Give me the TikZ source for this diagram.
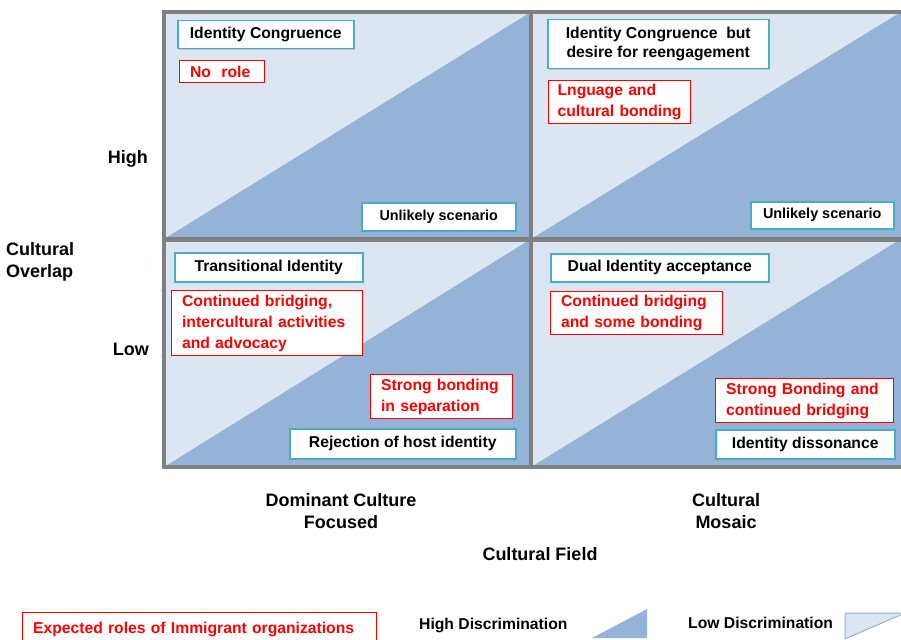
\documentclass[tikz,border=0pt]{standalone}
\usepackage{fontspec}
\setmainfont{Liberation Sans}
\usetikzlibrary{shadows}

\definecolor{cellLight}{HTML}{DCE6F2}
\definecolor{cellDark}{HTML}{95B3D7}
\definecolor{gridGray}{HTML}{808080}
\definecolor{idBlue}{HTML}{4BACC6}
\definecolor{roleRed}{HTML}{FF0000}

\tikzset{
  box/.style={anchor=north west, fill=white, inner ysep=0pt},
  idbox/.style={box, draw=idBlue, line width=1.5pt, align=center, inner xsep=0pt,
    font=\bfseries\fontsize{15.7}{19}\selectfont,
    drop shadow={shadow xshift=1.5pt, shadow yshift=-1.5pt, opacity=0.35}},
  rolebox/.style={box, draw=roleRed, line width=1.2pt, text=roleRed, align=left,
    inner xsep=10.5pt, font=\bfseries\fontsize{15.7}{21}\selectfont,
    execute at begin node={\hyphenpenalty=10000\exhyphenpenalty=10000}},
  axislabel/.style={font=\bfseries\fontsize{18}{22}\selectfont, align=center, inner sep=0pt},
  legendtext/.style={font=\bfseries\fontsize{15.7}{19}\selectfont, inner sep=0pt, anchor=west},
  gridline/.style={draw=gridGray, line width=4.5pt},
}

\begin{document}
\begin{tikzpicture}[x=1pt, y=-1pt]
\useasboundingbox (0,0) rectangle (901,639);
\clip (0,0) rectangle (901,639);

% quadrant backgrounds
\fill[cellLight] (164,12) rectangle (910,468);
\fill[cellDark] (164,239) -- (531,12) -- (531,239) -- cycle;
\fill[cellDark] (531,239) -- (901,12) -- (910,12) -- (910,239) -- cycle;
\fill[cellDark] (164,467) -- (531,239) -- (531,467) -- cycle;
\fill[cellDark] (531,467) -- (901,239) -- (910,239) -- (910,467) -- cycle;

% frame and dividers
\draw[gridline] (164,12) rectangle (910,467);
\draw[gridline] (531,12) -- (531,467);
\draw[gridline] (164,239.5) -- (910,239.5);

% high overlap, dominant culture
\node[idbox, minimum width=176pt, minimum height=28pt] (idc) at (177,20) {Identity Congruence};
\node[rolebox, text width=64pt, minimum height=22pt] (norole) at (179,60) {No\ \ role};
\node[idbox, minimum width=154pt, minimum height=28pt, font=\bfseries\fontsize{14.4}{18}\selectfont] (unl1) at (361,202) {Unlikely scenario};

% high overlap, cultural mosaic
\node[idbox, minimum width=221pt, minimum height=49pt] (idcb) at (547,19) {Identity Congruence\ \ but\\desire for reengagement};
\node[rolebox, inner xsep=9pt, text width=124pt, minimum height=43pt] (lang) at (548,80) {Lnguage and\\cultural~bonding};
\node[idbox, minimum width=143pt, minimum height=27pt, font=\bfseries\fontsize{14.4}{18}\selectfont] (unl2) at (750,201) {Unlikely scenario};

% low overlap, dominant culture
\node[idbox, minimum width=188pt, minimum height=29pt] (trans) at (174,252) {Transitional Identity};
\node[rolebox, text width=170pt, minimum height=65pt] (cont1) at (171,290) {Continued bridging,\\intercultural activities\\and advocacy};
\node[rolebox, text width=121pt, minimum height=44pt] (strong1) at (370,374) {Strong bonding\\in separation};
\node[idbox, minimum width=226pt, minimum height=30pt] (rej) at (289,428) {Rejection of host identity};

% low overlap, cultural mosaic
\node[idbox, minimum width=218pt, minimum height=28pt] (dual) at (550,253) {Dual Identity acceptance};
\node[rolebox, text width=151pt, minimum height=43pt] (cont2) at (550,291) {Continued bridging\\and some bonding};
\node[rolebox, text width=157pt, minimum height=44pt] (strong2) at (715,378) {Strong Bonding and\\continued bridging};
\node[idbox, minimum width=179pt, minimum height=29pt] (diss) at (715,429) {Identity dissonance};

% axis labels
\node[axislabel, anchor=east] (high) at (148,159) {High};
\node[axislabel, anchor=east] (low) at (149,349) {Low};
\node[axislabel, anchor=west, align=left] (overlap) at (6,262) {Cultural\\Overlap};
\node[axislabel] (dominant) at (341,511) {Dominant Culture\\Focused};
\node[axislabel] (mosaic) at (726,511) {Cultural\\Mosaic};
\node[axislabel] (field) at (540,554) {Cultural Field};

% legend
\node[rolebox, text width=333pt, minimum height=34pt, font=\bfseries\fontsize{15.7}{19}\selectfont] (roles) at (22,612) {Expected roles of Immigrant organizations};
\node[legendtext] (highdisc) at (419,625) {High Discrimination};
\fill[cellDark] (592,638) -- (647,609) -- (647,638) -- cycle;
\node[legendtext] (lowdisc) at (688,623) {Low Discrimination};
\filldraw[fill=cellLight, draw=cellDark, line width=1pt] (845,639) -- (845,613) -- (905,613) -- cycle;
\end{tikzpicture}
\end{document}
